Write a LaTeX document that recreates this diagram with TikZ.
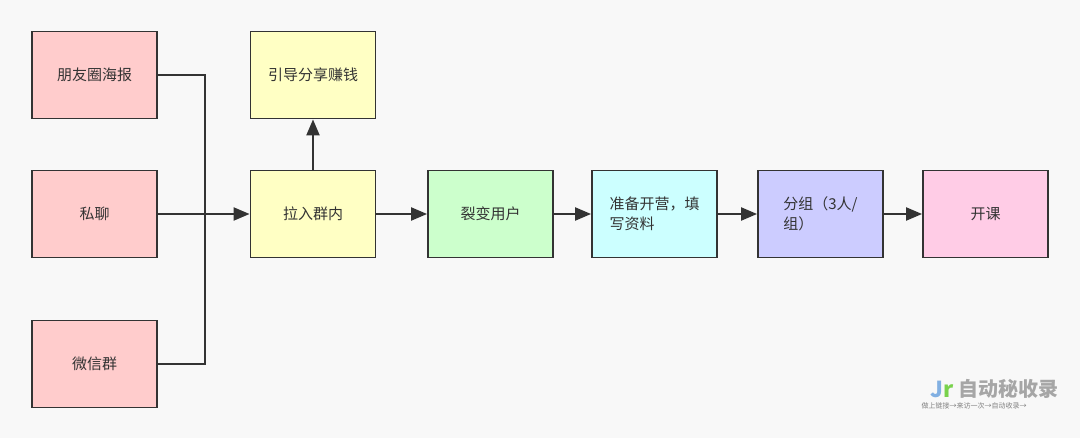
\documentclass[tikz,border=0pt]{standalone}
\usepackage{fontspec}
\newfontfamily\cjk{Noto Sans CJK SC}
\usetikzlibrary{arrows.meta}
\definecolor{bg}{HTML}{F8F8F8}
\definecolor{cpink}{HTML}{FFCCCC}
\definecolor{cyel}{HTML}{FFFFC4}
\definecolor{cgreen}{HTML}{CCFFCC}
\definecolor{ccyan}{HTML}{CCFFFF}
\definecolor{clav}{HTML}{CCCCFF}
\definecolor{cmag}{HTML}{FFCCE6}
\definecolor{ln}{HTML}{333333}
\tikzset{
  bx/.style={draw=ln, line width=1.8pt, minimum width=125pt, minimum height=87pt, inner sep=2pt,
    font=\cjk\fontsize{15}{20}\selectfont, text=ln, align=left},
  con/.style={draw=ln, line width=2pt},
  arr/.style={con, -{Triangle[length=16pt,width=13pt]}}
}
\begin{document}
\begin{tikzpicture}[x=1pt,y=-1pt]
\fill[bg] (0,0) rectangle (1080,438);
\useasboundingbox (0,0) rectangle (1080,438);
\node[bx, fill=cpink] (a) at (94.5,75) {朋友圈海报};
\node[bx, fill=cpink] (b) at (94.5,214) {私聊};
\node[bx, fill=cpink] (c) at (94.5,364) {微信群};
\node[bx, fill=cyel] (g) at (313,75) {引导分享赚钱};
\node[bx, fill=cyel] (d) at (313,214) {拉入群内};
\node[bx, fill=cgreen] (e) at (490.5,214) {裂变用户};
\node[bx, fill=ccyan] (f) at (654.5,214) {准备开营，填\\写资料};
\node[bx, fill=clav] (h) at (820.5,214) {分组（3人/\\组）};
\node[bx, fill=cmag] (k) at (985.5,214) {开课};
\coordinate (j) at (205,214);
\draw[con] (a.east) -| (j);
\draw[con] (c.east) -| (j);
\draw[arr] (b.east) -- (d.west);
\draw[arr] (d.north) -- (g.south);
\draw[arr] (d.east) -- (e.west);
\draw[arr] (e.east) -- (f.west);
\draw[arr] (f.east) -- (h.west);
\draw[arr] (h.east) -- (k.west);
\node[font=\cjk\bfseries\fontsize{20}{22}\selectfont, text=gray!70, anchor=west] (w1) at (955,389) {自动秘收录};
\node[font=\cjk\bfseries\fontsize{22}{22}\selectfont, text=cyan!60!blue!50, anchor=east] (w0) at (957,389) {J\textcolor{green!50!olive!70}{r}};
\node[font=\cjk\fontsize{7}{8}\selectfont, text=gray, anchor=west] (w2) at (918,406) {做上链接→来访一次→自动收录→};
\end{tikzpicture}
\end{document}
